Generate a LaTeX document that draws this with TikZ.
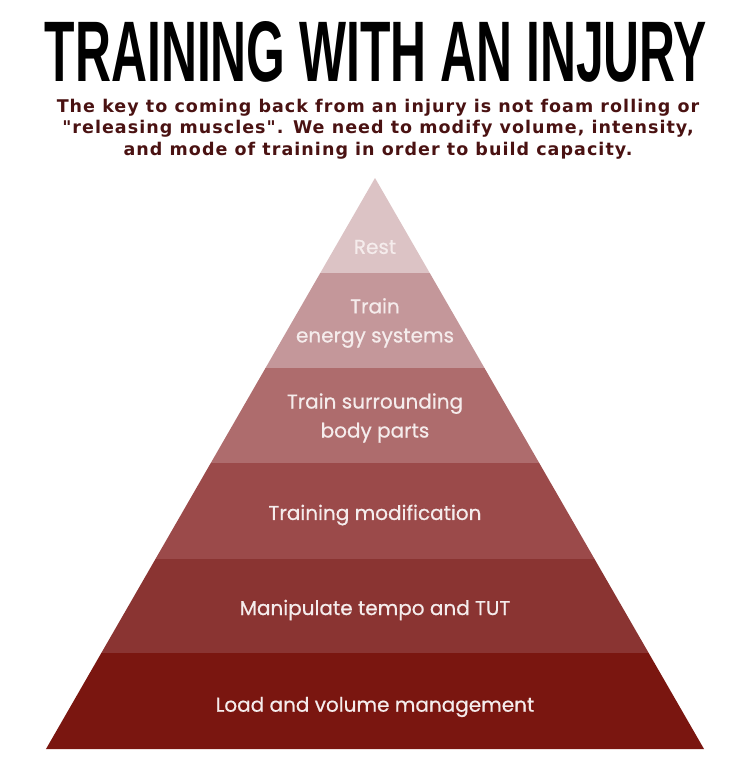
\documentclass[tikz,border=0pt]{standalone}
\usepackage{graphicx}
\usepackage{fontspec}
\setmainfont{Poppins}
\newfontfamily\lblfont{Poppins}[FakeBold=0.6]
\newfontfamily\titlefont{Liberation Sans}
\newfontfamily\subfont{DejaVu Sans}[LetterSpace=6]
\definecolor{lay1}{HTML}{DCC3C5}
\definecolor{lay2}{HTML}{C4979A}
\definecolor{lay3}{HTML}{AE6C6D}
\definecolor{lay4}{HTML}{9B4A4A}
\definecolor{lay5}{HTML}{8A3432}
\definecolor{lay6}{HTML}{7A1610}
\definecolor{subcol}{HTML}{4A1212}
\definecolor{lbltext}{HTML}{F5ECEC}
\tikzset{
  lbl/.style={text=lbltext, font=\lblfont\fontsize{20}{29}\selectfont, align=center},
}
\begin{document}
\begin{tikzpicture}[x=1pt,y=-1pt]
    \useasboundingbox (0,0) rectangle (750,770);
    \node[inner sep=0pt] (title) at (376,52) {\resizebox{662pt}{60pt}{\titlefont\bfseries TRAINING WITH AN INJURY}};
    \node[text=subcol, inner sep=0pt, font=\subfont\bfseries\fontsize{17.5}{21.5}\selectfont, align=center] (subtitle) at (378,129)
      {The key to coming back from an injury is not foam rolling or\\
       "releasing muscles". We need to modify volume, intensity,\\
       and mode of training in order to build capacity.};
    % pyramid layers, top to bottom
    \foreach \i/\a/\b in {1/178/273, 2/273/368, 3/368/463, 4/463/559, 5/559/653, 6/653/749}
      \fill[lay\i] ({375-(\a-178)*0.5762},\a) -- ({375+(\a-178)*0.5762},\a)
        -- ({375+(\b-178)*0.5762},\b) -- ({375-(\b-178)*0.5762},\b) -- cycle;
    \node[lbl] (rest) at (375,247) {Rest};
    \node[lbl] (energy) at (375,323) {Train\\energy systems};
    \node[lbl] (surround) at (375,418) {Train surrounding\\body parts};
    \node[lbl] (modif) at (375,515) {Training modification};
    \node[lbl] (tempo) at (375,610) {Manipulate tempo and TUT};
    \node[lbl] (load) at (375,707) {Load and volume management};
\end{tikzpicture}
\end{document}
